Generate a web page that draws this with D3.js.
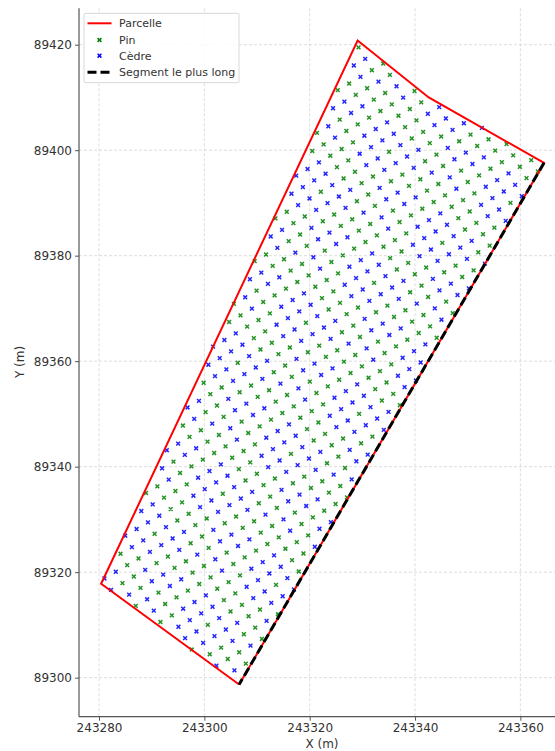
<!DOCTYPE html>
<html>
<head>
<meta charset="utf-8">
<script src="https://cdn.jsdelivr.net/npm/d3@7"></script>
<style>
  body { margin: 0; background: #fff; }
  text { font-family: "DejaVu Sans", sans-serif; }
</style>
</head>
<body>
<div class="canvas"></div>
<script>
// parcel outline (closed)
const parcelX = [243306.6, 243280.4, 243329.1, 243342.6, 243364.5, 243306.6];
const parcelY = [89298.7, 89317.8, 89420.8, 89410.0, 89397.6, 89298.7];
// longest side
const segX = [243364.5, 243306.6];
const segY = [89397.6, 89298.7];
const xTicks = [243280, 243300, 243320, 243340, 243360];
const yTicks = [89300, 89320, 89340, 89360, 89380, 89400, 89420];
const species = ["Pin", "Cèdre"];
const speciesColor = ["#008000", "#0000ff"];
// planting grid: 2.5 m square mesh, turned 30.35 deg, one node at gridOrigin
const gridStep = 2.5;
const gridAngle = 30.35;
const gridOrigin = [243311.76, 89345.49];
// species pattern (0 = Pin, 1 = Cèdre), 6 nodes x 8 rows
const speciesTile = [
  [0, 1, 1, 1, 1, 0],
  [1, 0, 0, 1, 0, 0],
  [1, 1, 0, 0, 1, 0],
  [0, 1, 1, 0, 0, 1],
  [0, 0, 0, 0, 0, 1],
  [0, 1, 1, 1, 0, 0],
  [1, 1, 1, 1, 0, 0],
  [1, 1, 0, 1, 0, 0]
];

const width = 555, height = 751;
const xDomain = [243276.2, 243368.7];
const yDomain = [89292.6, 89426.9];
const padLeft = 79, axisBottom = 716.7, axisTop = 8.3;
const pxPerM = 5.267;

const x = d3.scaleLinear().domain(xDomain).range([padLeft, padLeft + (xDomain[1] - xDomain[0]) * pxPerM]);
const y = d3.scaleLinear().domain(yDomain).range([axisBottom, axisTop]);

const svg = d3.select(".canvas").append("svg")
  .attr("width", width).attr("height", height);

// grid lines
svg.append("g").selectAll("line").data(xTicks).join("line")
  .attr("x1", d => x(d)).attr("x2", d => x(d))
  .attr("y1", axisTop).attr("y2", axisBottom)
  .attr("stroke", "#d4d4d4").attr("stroke-width", 0.8).attr("stroke-dasharray", "3,2");
svg.append("g").selectAll("line").data(yTicks).join("line")
  .attr("x1", padLeft).attr("x2", width)
  .attr("y1", d => y(d)).attr("y2", d => y(d))
  .attr("stroke", "#d4d4d4").attr("stroke-width", 0.8).attr("stroke-dasharray", "3,2");

// axes
const xAxis = svg.append("g").attr("transform", `translate(0,${axisBottom})`)
  .call(d3.axisBottom(x).tickValues(xTicks).tickFormat(d3.format("d")).tickSize(4).tickSizeOuter(0));
const yAxis = svg.append("g").attr("transform", `translate(${padLeft},0)`)
  .call(d3.axisLeft(y).tickValues(yTicks).tickFormat(d3.format("d")).tickSize(4).tickSizeOuter(0));
[xAxis, yAxis].forEach(a => {
  a.select(".domain").attr("stroke", "#555").attr("stroke-width", 1.2);
  a.selectAll(".tick line").attr("stroke", "#555");
  a.selectAll(".tick text").attr("font-size", 12).attr("fill", "#333")
    .attr("font-family", "DejaVu Sans, sans-serif");
});
xAxis.select(".domain").attr("d", `M${padLeft},0H${width}`);
yAxis.select(".domain").attr("d", `M0,${axisTop}V${axisBottom}`);

svg.append("text").attr("x", 322).attr("y", 748).attr("text-anchor", "middle")
  .attr("font-size", 12).attr("fill", "#333").text("X (m)");
svg.append("text").attr("transform", "translate(24,362) rotate(-90)").attr("text-anchor", "middle")
  .attr("font-size", 12).attr("fill", "#333").text("Y (m)");

// trees: nodes of the planting mesh that fall inside the parcel
const poly = parcelX.slice(0, -1).map((d, i) => [d, parcelY[i]]);
const rad = gridAngle * Math.PI / 180;
const ax = gridStep * Math.cos(rad), ay = gridStep * Math.sin(rad);
const bx = ay, by = -ax;
const mod = (n, k) => ((n % k) + k) % k;
const trees = [];
for (let j = -40; j <= 40; j++) {
  for (let i = -40; i <= 40; i++) {
    const px = gridOrigin[0] + i * ax + j * bx, py = gridOrigin[1] + i * ay + j * by;
    if (d3.polygonContains(poly, [px, py])) {
      trees.push({ x: px, y: py, s: speciesTile[mod(j + 5, 8)][mod(i + 1, 6)] });
    }
  }
}
const m = 1.9;
const cross = (cx, cy) => `M${cx - m},${cy - m}L${cx + m},${cy + m}M${cx - m},${cy + m}L${cx + m},${cy - m}`;
svg.append("g").selectAll("path").data(trees).join("path")
  .attr("d", d => cross(x(d.x), y(d.y)))
  .attr("stroke", d => speciesColor[d.s]).attr("stroke-width", 1.5).attr("opacity", 0.85);

// parcel and longest side
const line = d3.line().x(d => x(d[0])).y(d => y(d[1]));
svg.append("path").attr("d", line(parcelX.map((d, i) => [d, parcelY[i]])))
  .attr("fill", "none").attr("stroke", "#ff0000").attr("stroke-width", 2);
svg.append("path").attr("d", line(segX.map((d, i) => [d, segY[i]])))
  .attr("fill", "none").attr("stroke", "#000").attr("stroke-width", 3).attr("stroke-dasharray", "9,4");

// legend
const lg = svg.append("g");
lg.append("rect").attr("x", 84).attr("y", 13.3).attr("width", 155).attr("height", 69.4)
  .attr("rx", 2).attr("fill", "#fff").attr("fill-opacity", 0.85).attr("stroke", "#d8d8d8");
const items = [
  { label: "Parcelle", kind: "line" },
  { label: species[0], kind: "pt", c: speciesColor[0] },
  { label: species[1], kind: "pt", c: speciesColor[1] },
  { label: "Segment le plus long", kind: "dash" }
];
const rowY = [23.3, 40, 55.7, 72.3];
items.forEach((it, i) => {
  const yy = rowY[i];
  if (it.kind === "line") {
    lg.append("line").attr("x1", 87.5).attr("x2", 111.5).attr("y1", yy).attr("y2", yy)
      .attr("stroke", "#ff0000").attr("stroke-width", 2);
  } else if (it.kind === "dash") {
    lg.append("line").attr("x1", 87.5).attr("x2", 111.5).attr("y1", yy).attr("y2", yy)
      .attr("stroke", "#000").attr("stroke-width", 3).attr("stroke-dasharray", "9,4");
  } else {
    lg.append("path").attr("d", cross(99.5, yy))
      .attr("stroke", it.c).attr("stroke-width", 1.5);
  }
  lg.append("text").attr("x", 119).attr("y", yy + 4).attr("font-size", 11).attr("fill", "#333").text(it.label);
});
</script>
</body>
</html>
